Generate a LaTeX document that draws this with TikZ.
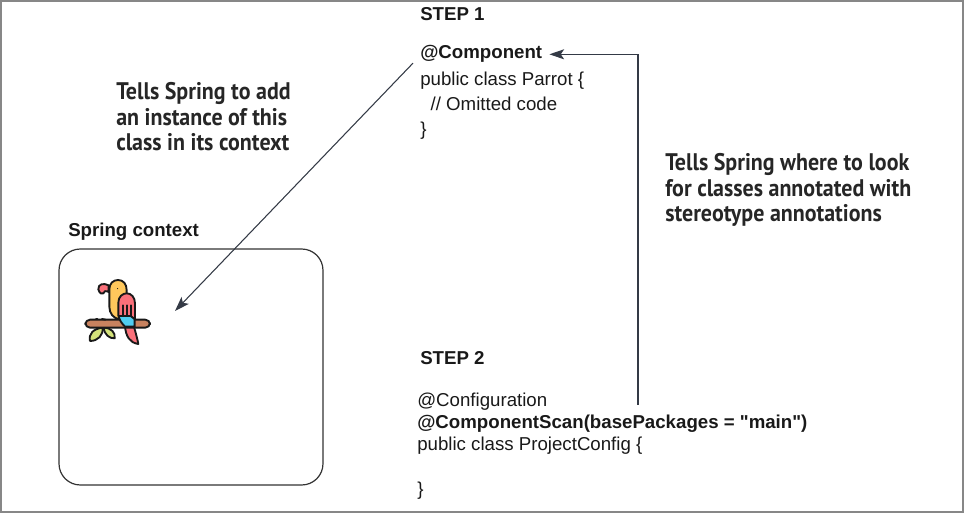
\documentclass[tikz,border=0pt]{standalone}
\usepackage{fontspec}
\setmainfont{Liberation Sans}[Ligatures=TeXOff]
\newfontfamily\notefont[FakeStretch=0.915]{PT Sans}
\usetikzlibrary{arrows.meta, positioning, calc}

\tikzset{
    codetext/.style={anchor=base west, inner sep=0pt, align=left, font=\fontsize{14pt}{19pt}\selectfont, text=black!90},
    headtext/.style={codetext, font=\fontsize{14pt}{19pt}\selectfont\bfseries},
    notetext/.style={anchor=base west, inner sep=0pt, align=left, text=black!85, font=\notefont\bfseries\fontsize{18pt}{19.2pt}\selectfont},
    flowline/.style={draw=linecolor, line width=0.8pt, -{Stealth[length=11pt, width=7.5pt, inset=2.5pt]}},
    parrotline/.style={draw=black!90, line width=1.4pt, line join=round, line cap=round},
}

\begin{document}
\begin{tikzpicture}[x=0.75pt, y=-0.75pt]

% --- COLOURS ---
\definecolor{linecolor}{RGB}{52, 58, 70}
\definecolor{framecolor}{RGB}{135, 135, 135}
\definecolor{perchcolor}{RGB}{200, 130, 95}
\definecolor{leafcolor}{RGB}{212, 226, 122}
\definecolor{headcolor}{RGB}{255, 200, 92}
\definecolor{wingcolor}{RGB}{250, 112, 122}
\definecolor{bellycolor}{RGB}{80, 205, 240}

\useasboundingbox (0,0) rectangle (964,513);
\draw[framecolor, line width=1.3pt] (0.7,0.7) rectangle (963.3,512.3);

% --- STEP 1 (top) ---
\node[headtext] (stepone) at (420,21) {STEP 1};
\node[headtext, inner xsep=5.25pt] (component) at (413,59) {@Component};
\node[codetext] (parrotcode) at (420,136) {public class Parrot \{\\
\ \ // Omitted code\\
\}};

% --- STEP 2 (bottom) ---
\node[headtext] (steptwo) at (420,364) {STEP 2};
\node[codetext] (configuration) at (417,406) {@Configuration};
\node[headtext, inner ysep=7pt] (scan) at (417,428) {@ComponentScan(basePackages = "main")};
\node[codetext] (projectcode) at (417,450) {public class ProjectConfig \{};
\node[codetext] (closing) at (417,495) {\}};

% --- NOTES ---
\node[notetext] (addnote) at (116,151) {Tells Spring to add\\an instance of this\\class in its context};
\node[notetext] (looknote) at (665,222) {Tells Spring where to look\\for classes annotated with\\stereotype annotations};

% --- SPRING CONTEXT ---
\node[headtext] (contextlabel) at (68,237) {Spring context};
\node[draw=black!80, line width=0.9pt, rounded corners=16pt, minimum width=198pt, minimum height=177pt, inner sep=0pt] (context) at (191,367) {};

% --- PARROT ---
\begin{scope}[shift={(70,260)}, scale=0.3333]
    % Leaves
    \draw[parrotline, fill=leafcolor] (98,203) .. controls (70,206) and (55,222) .. (60,243) .. controls (84,243) and (100,226) .. (98,203) -- cycle;
    \draw[parrotline, fill=leafcolor] (100,203) .. controls (104,224) and (118,236) .. (134,235) .. controls (137,218) and (124,203) .. (100,203) -- cycle;
    % Tail
    \draw[parrotline, fill=wingcolor] (165,200) .. controls (168,228) and (178,248) .. (205,252) .. controls (202,235) and (196,215) .. (192,200) -- cycle;
    % Perch
    \draw[parrotline, fill=perchcolor, rounded corners=3.5pt] (46,179) rectangle (240,203);
    \draw[parrotline] (78,178) -- (82,178);
    \draw[parrotline] (96,177) -- (106,179);
    % Beak
    \draw[parrotline, fill=wingcolor] (116,76) .. controls (100,68) and (84,72) .. (85,88) .. controls (88,100) and (96,104) .. (100,100) .. controls (100,92) and (108,92) .. (116,96) -- cycle;
    % Body and head
    \draw[parrotline, fill=headcolor] (118,88) .. controls (118,70) and (130,60) .. (144,60) .. controls (160,60) and (170,72) .. (170,90) -- (170,120) -- (150,178) .. controls (130,176) and (118,160) .. (118,140) -- cycle;
    \fill[black!90] (143,86) circle (1.3pt);
    % Wing
    \draw[parrotline, fill=bellycolor] (146,168) -- (194,168) -- (194,200) -- (165,200) .. controls (155,190) and (148,180) .. (146,168) -- cycle;
    \draw[parrotline, fill=wingcolor] (145,168) -- (145,128) .. controls (145,110) and (158,100) .. (170,100) .. controls (184,100) and (195,112) .. (195,130) -- (195,178) -- (182,168) -- (170,168) -- (158,168) -- cycle;
    \draw[parrotline] (158,168) -- (158,136) (170,168) -- (170,136) (182,168) -- (182,136);
\end{scope}

% --- CONNECTORS ---
\coordinate (parrotspot) at (175,311);
\coordinate (trunk) at (638,405);
\draw[flowline] (component.south west) -- (parrotspot);
\draw[flowline] (scan.north -| trunk) |- (component.east);

\end{tikzpicture}
\end{document}
